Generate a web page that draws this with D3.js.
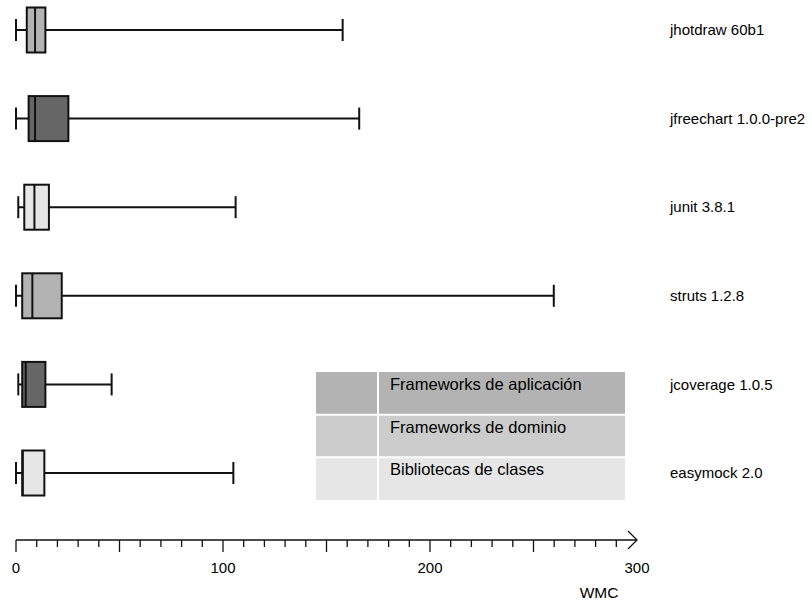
<!DOCTYPE html>
<html lang="es">
<head>
  <meta charset="UTF-8">
  <title>WMC por proyecto</title>
  <style>
    body { margin: 0; background: #fff; }
    svg { display: block; }
    text { font-family: "Liberation Sans", Arial, sans-serif; fill: #000; }
  </style>
</head>
<body>
  <svg width="812" height="603"></svg>

  <script src="https://d3js.org/d3.v7.min.js"></script>
  <script>
    // values (WMC)
    const projects = ["jhotdraw 60b1", "jfreechart 1.0.0-pre2", "junit 3.8.1", "struts 1.2.8", "jcoverage 1.0.5", "easymock 2.0"];
    const mins    = [0,   0,   1.1, 0,   1.1, 0];
    const q1s     = [5.2, 6.1, 4.0, 3.0, 3.0, 3.0];
    const medians = [9.2, 9.2, 8.9, 7.9, 4.7, 3.3];
    const q3s     = [14.2, 25.3, 15.9, 22.1, 14.2, 13.7];
    const maxs    = [157.8, 165.8, 106.1, 259.8, 46.2, 105];
    const groups  = ["dominio", "aplicacion", "clases", "dominio", "aplicacion", "clases"];

    const legendKeys   = ["aplicacion", "dominio", "clases"];
    const legendLabels = ["Frameworks de aplicación", "Frameworks de dominio", "Bibliotecas de clases"];
    const tickLabels   = [0, 100, 200, 300];
    const axisTitle    = "WMC";

    const boxFill    = d3.scaleOrdinal().domain(legendKeys).range(["#666666", "#b3b3b3", "#e6e6e6"]);
    const legendFill = d3.scaleOrdinal().domain(legendKeys).range(["#b3b3b3", "#cccccc", "#e6e6e6"]);

    const data = projects.map((p, i) => ({
      name: p, min: mins[i], q1: q1s[i], med: medians[i], q3: q3s[i], max: maxs[i], group: groups[i]
    }));

    const svg = d3.select("svg");
    const x = d3.scaleLinear().domain([0, 300]).range([16, 637]);
    const y = d3.scalePoint().domain(projects).range([30, 473]);
    const boxH = 45, capH = 22;

    // legend table
    const lg = svg.append("g");
    const legY = d3.scaleBand().domain(legendKeys).range([372, 500]);
    lg.selectAll("rect.bg").data(legendKeys).enter().append("rect")
      .attr("x", 316).attr("width", 309)
      .attr("y", d => legY(d)).attr("height", legY.bandwidth())
      .attr("fill", d => legendFill(d));
    lg.selectAll("line.row").data(legendKeys.slice(1)).enter().append("line")
      .attr("x1", 316).attr("x2", 625)
      .attr("y1", d => legY(d)).attr("y2", d => legY(d))
      .attr("stroke", "#fff").attr("stroke-width", 2);
    lg.append("line").attr("x1", 378).attr("x2", 378).attr("y1", 372).attr("y2", 500)
      .attr("stroke", "#fff").attr("stroke-width", 2);
    lg.selectAll("text").data(legendKeys).enter().append("text")
      .attr("x", 390).attr("y", d => legY(d) + 18)
      .attr("font-size", 16.5)
      .text((d, i) => legendLabels[i]);

    // box plots
    const g = svg.append("g").selectAll("g").data(data).enter().append("g")
      .attr("transform", d => `translate(0,${y(d.name)})`);

    g.append("line").attr("x1", d => x(d.min)).attr("x2", d => x(d.max))
      .attr("stroke", "#111").attr("stroke-width", 2);
    g.append("line").attr("x1", d => x(d.min)).attr("x2", d => x(d.min))
      .attr("y1", -capH / 2).attr("y2", capH / 2)
      .attr("stroke", "#111").attr("stroke-width", 2);
    g.append("line").attr("x1", d => x(d.max)).attr("x2", d => x(d.max))
      .attr("y1", -capH / 2).attr("y2", capH / 2)
      .attr("stroke", "#111").attr("stroke-width", 2);
    g.append("rect")
      .attr("x", d => x(d.q1)).attr("width", d => x(d.q3) - x(d.q1))
      .attr("y", -boxH / 2).attr("height", boxH)
      .attr("fill", d => boxFill(d.group))
      .attr("stroke", "#111").attr("stroke-width", 2);
    g.append("line").attr("x1", d => x(d.med)).attr("x2", d => x(d.med))
      .attr("y1", -boxH / 2).attr("y2", boxH / 2)
      .attr("stroke", "#111").attr("stroke-width", 2);

    svg.append("g").selectAll("text").data(projects).enter().append("text")
      .attr("x", 670).attr("y", d => y(d)).attr("dy", "0.35em")
      .attr("font-size", 15)
      .text(d => d);

    // axis
    const axY = 540;
    const ax = svg.append("g").attr("stroke", "#111").attr("stroke-width", 1.3);
    ax.append("line").attr("x1", x(0)).attr("x2", x(300)).attr("y1", axY).attr("y2", axY);
    ax.append("path").attr("fill", "none")
      .attr("d", `M${x(300) - 9},${axY - 9}L${x(300)},${axY}L${x(300) - 9},${axY + 9}`);
    ax.selectAll("line.tick").data(d3.range(0, 300, 10)).enter().append("line")
      .attr("x1", d => x(d)).attr("x2", d => x(d))
      .attr("y1", axY).attr("y2", d => axY + (d % 50 === 0 ? 12 : 7));

    svg.append("g").selectAll("text").data(tickLabels).enter().append("text")
      .attr("x", d => x(d)).attr("y", 573)
      .attr("text-anchor", "middle").attr("font-size", 15)
      .text(d => d);
    svg.append("text").attr("x", 599).attr("y", 598)
      .attr("text-anchor", "middle").attr("font-size", 15.5)
      .text(axisTitle);
  </script>
</body>
</html>
